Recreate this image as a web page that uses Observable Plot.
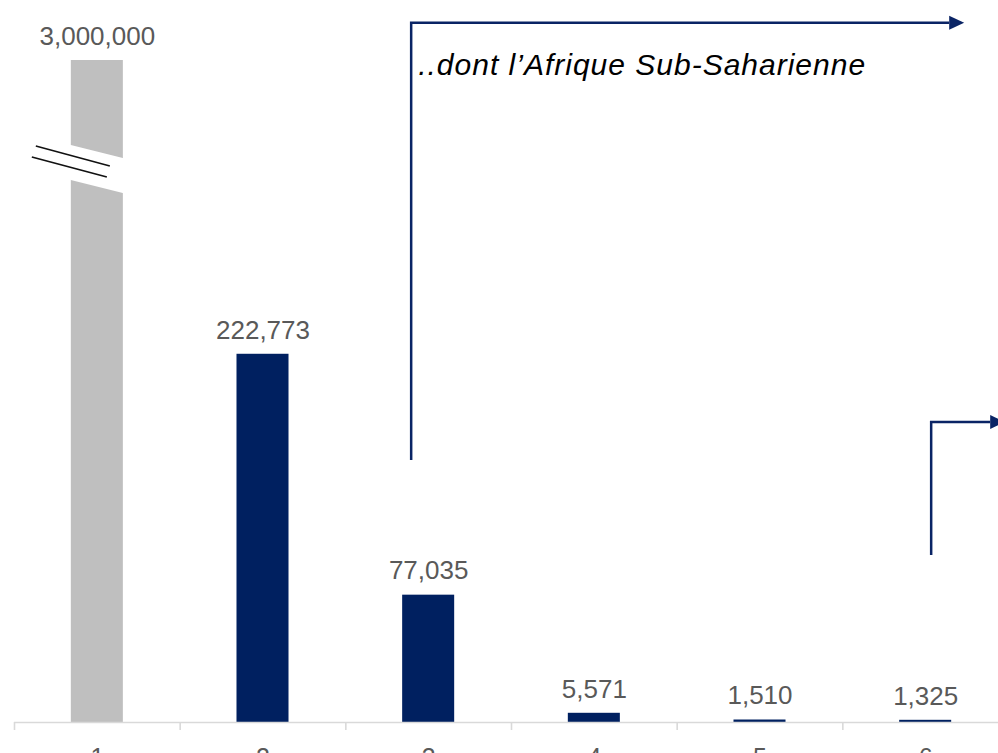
<!DOCTYPE html>
<html>
<head>
<meta charset="utf-8">
<script src="https://cdn.jsdelivr.net/npm/d3@7"></script>
<script src="https://cdn.jsdelivr.net/npm/@observablehq/plot@0.6"></script>
<style>
  html, body { margin: 0; padding: 0; overflow: hidden; background: #fff; }
</style>
</head>
<body>
<div id="chart"></div>
<script>
// ---- Data ----
const categories = ["1", "2", "3", "4", "5", "6"];
const values = [3000000, 222773, 77035, 5571, 1510, 1325];
const valueLabels = ["3,000,000", "222,773", "77,035", "5,571", "1,510", "1,325"];
const barColors = ["#bfbfbf", "#002060", "#002060", "#002060", "#002060", "#002060"];
const brokenCategory = "1";
const brokenBarCap = 400500;   // drawn height of the broken (off-scale) bar
const breakValue = 334500;     // where the break marks sit on the broken bar
const annotationText = "..dont l’Afrique Sub-Saharienne";
const annotationCategory = "3";
const annotationValue = 397700;
// elbow arrows: start (category, pixel offset, value), elbow value, end (category, pixel offset)
const arrowFromCats = ["3", "6"];
const arrowFromDx = [-17, 6];
const arrowFromValues = [158500, 101000];
const arrowElbowValues = [423000, 181500];
const arrowToCats = ["6", "6"];
const arrowToDx = [39, 80];

const data = categories.map((c, i) => ({
  cat: c,
  value: values[i],
  shown: Math.min(values[i], brokenBarCap),
  label: valueLabels[i],
  color: barColors[i]
}));

const W = 1008, H = 780, ML = 14, MR = 0, MT = 0, MB = 58;
const step = (W - ML - MR) / categories.length;

const textColor = "#595959";
const navy = "#0a2465";

const plot = Plot.plot({
  width: W,
  height: H,
  marginLeft: ML,
  marginRight: MR,
  marginTop: MT,
  marginBottom: MB,
  style: "max-width:none;overflow:visible;font-family:'Liberation Sans',Arial,sans-serif;background:#fff",
  x: {domain: categories, paddingInner: 0.686, paddingOuter: 0.343, round: false, axis: null},
  y: {domain: [0, 436800], axis: null},
  color: {type: "identity"},
  marks: [
    Plot.barY(data, {x: "cat", y: "shown", fill: "color"}),
    Plot.ruleY([0], {stroke: "#d9d9d9", strokeWidth: 1.6}),
    Plot.axisX({tickSize: 8, tickFormat: () => "", label: null, dx: -step / 2, stroke: "#d9d9d9", strokeWidth: 1.6}),
    Plot.text(data, {x: "cat", y: "shown", text: "label", dy: -24, fontSize: 26, fill: textColor}),
    Plot.text(categories, {x: d => d, y: () => 0, text: d => d, dy: 35, fontSize: 25, fill: textColor}),
    Plot.text([annotationText], {
      x: () => annotationCategory, y: () => annotationValue, text: d => d,
      dx: -10.5, textAnchor: "start", fontStyle: "italic", fontSize: 30, fill: "#000"
    })
  ]
});

// ---- Decorations drawn with the plot's own scales ----
const xs = plot.scale("x"), ys = plot.scale("y");
const bw = xs.bandwidth;
const center = c => xs.apply(c) + bw / 2;
const svg = d3.select(plot);

// slightly wider annotation lettering
svg.selectAll("text").filter(function() { return this.textContent === annotationText; })
  .attr("letter-spacing", "1px");

// axis break on the off-scale bar
{
  const bx = xs.apply(brokenCategory), cx = bx + bw / 2, yc = ys.apply(breakValue);
  const g = svg.append("g");
  g.append("polygon")
    .attr("points", [
      [bx - 3, yc - 24.75], [bx + bw + 3, yc - 10.25],
      [bx + bw + 3, yc + 24.75], [bx - 3, yc + 10.25]
    ].map(p => p.join(",")).join(" "))
    .attr("fill", "#fff");
  g.append("line").attr("x1", cx - 61).attr("y1", yc - 23).attr("x2", cx + 13).attr("y2", yc - 3)
    .attr("stroke", "#111").attr("stroke-width", 1.6);
  g.append("line").attr("x1", cx - 65).attr("y1", yc - 12).attr("x2", cx + 10).attr("y2", yc + 8)
    .attr("stroke", "#111").attr("stroke-width", 1.6);
}

// elbow arrows
arrowFromCats.forEach((c, i) => {
  const x0 = center(c) + arrowFromDx[i];
  const y0 = ys.apply(arrowFromValues[i]);
  const ye = ys.apply(arrowElbowValues[i]);
  const x1 = center(arrowToCats[i]) + arrowToDx[i];
  const head = 15, hw = 7;
  svg.append("path")
    .attr("d", `M${x0},${y0}V${ye}H${x1 - head}`)
    .attr("fill", "none").attr("stroke", navy).attr("stroke-width", 2.5);
  svg.append("polygon")
    .attr("points", `${x1 - head},${ye - hw} ${x1},${ye} ${x1 - head},${ye + hw}`)
    .attr("fill", navy);
});

document.getElementById("chart").appendChild(plot);
</script>
</body>
</html>
